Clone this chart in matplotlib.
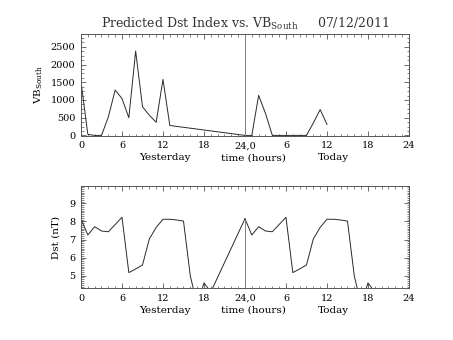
import matplotlib
matplotlib.use('Agg')
import matplotlib.pyplot as plt
from matplotlib.ticker import MultipleLocator, AutoMinorLocator
import matplotlib.transforms as mtransforms

# hourly VB_South, yesterday (0-24 h) and today (24-48 h)
vb_hours_yesterday = [0, 1, 2, 3, 4, 5, 6, 7, 8, 9, 10, 11, 12, 13, 24]
vb_yesterday = [1510, 30, 0, 0, 520, 1280, 1040, 500, 2380, 810, 570, 370, 1580, 280, 0]
vb_hours_today = [24, 25, 26, 27, 28, 29, 30, 31, 32, 33, 34, 35, 36]
vb_today = [0, 0, 1130, 620, 0, 0, 0, 0, 0, 0, 350, 730, 310]

# predicted Dst
dst_hours_yesterday = list(range(0, 20)) + [24]
dst_yesterday = [8.15, 7.25, 7.71, 7.47, 7.43, 7.83, 8.23, 5.17, 5.37, 5.59,
                 7.03, 7.67, 8.12, 8.12, 8.08, 8.02, 4.98, 3.4, 4.6, 4.1, 8.15]
dst_hours_today = list(range(24, 44))
dst_today = [8.15, 7.25, 7.71, 7.47, 7.43, 7.83, 8.23, 5.17, 5.37, 5.59,
             7.03, 7.67, 8.12, 8.12, 8.08, 8.02, 4.98, 3.4, 4.6, 4.1]

xticks = [0, 6, 12, 18, 24, 30, 36, 42, 48]
xticklabels = ['0', '6', '12', '18', '24,0', '6', '12', '18', '24']

plt.rcParams['font.family'] = ['DejaVu Serif']
plt.rcParams['font.size'] = 7

LINE = '#2a2a2a'
FRAME = '#555555'
SEP = '#808080'

fig = plt.figure(figsize=(4.53, 3.40), dpi=100)
ax1 = fig.add_axes([0.1788, 0.6009, 0.724, 0.300])
ax2 = fig.add_axes([0.1788, 0.1520, 0.724, 0.302])


def style_axes(ax):
    ax.set_xlim(0, 48)
    ax.set_xticks(xticks)
    ax.set_xticklabels(xticklabels)
    ax.xaxis.set_minor_locator(MultipleLocator(1))
    ax.tick_params(which='both', direction='in', top=True, right=True,
                   color=FRAME, labelsize=7, pad=4)
    ax.tick_params(which='major', length=3.5, width=0.6)
    ax.tick_params(which='minor', length=1.8, width=0.5)
    for s in ax.spines.values():
        s.set_color(FRAME)
        s.set_linewidth(0.7)
    # second row of x labels
    trans = mtransforms.blended_transform_factory(ax.transData, ax.transAxes)
    for x, txt in [(12.3, 'Yesterday'), (25.2, 'time (hours)'), (37.0, 'Today')]:
        ax.text(x, -0.215, txt, transform=trans, ha='center', va='center',
                fontsize=7.5)


# VB_South panel
ax1.plot(vb_hours_yesterday, vb_yesterday, color=LINE, lw=0.7)
ax1.plot(vb_hours_today, vb_today, color=LINE, lw=0.7)
ax1.axvline(24, color=SEP, lw=0.7)
ax1.set_ylim(-8, 2870)
ax1.yaxis.set_major_locator(MultipleLocator(500))
ax1.yaxis.set_minor_locator(AutoMinorLocator(4))
ax1.set_ylabel('VB$_{\\mathregular{South}}$', fontsize=7.5, labelpad=4)
style_axes(ax1)
ax1.set_title('Predicted Dst Index vs. VB$_{\\mathregular{South}}$     07/12/2011',
              fontsize=9, pad=4, color='#333333')

# Dst panel
ax2.plot(dst_hours_yesterday, dst_yesterday, color=LINE, lw=0.7)
ax2.plot(dst_hours_today, dst_today, color=LINE, lw=0.7)
ax2.set_ylim(4.3, 9.98)
ax2.vlines(24, 4.3, dst_today[0], color=SEP, lw=0.7)
ax2.yaxis.set_major_locator(MultipleLocator(1))
ax2.yaxis.set_minor_locator(MultipleLocator(0.1))
ax2.set_ylabel('Dst (nT)', fontsize=7.5, labelpad=6)
style_axes(ax2)

fig.savefig('out.png', dpi=100)
